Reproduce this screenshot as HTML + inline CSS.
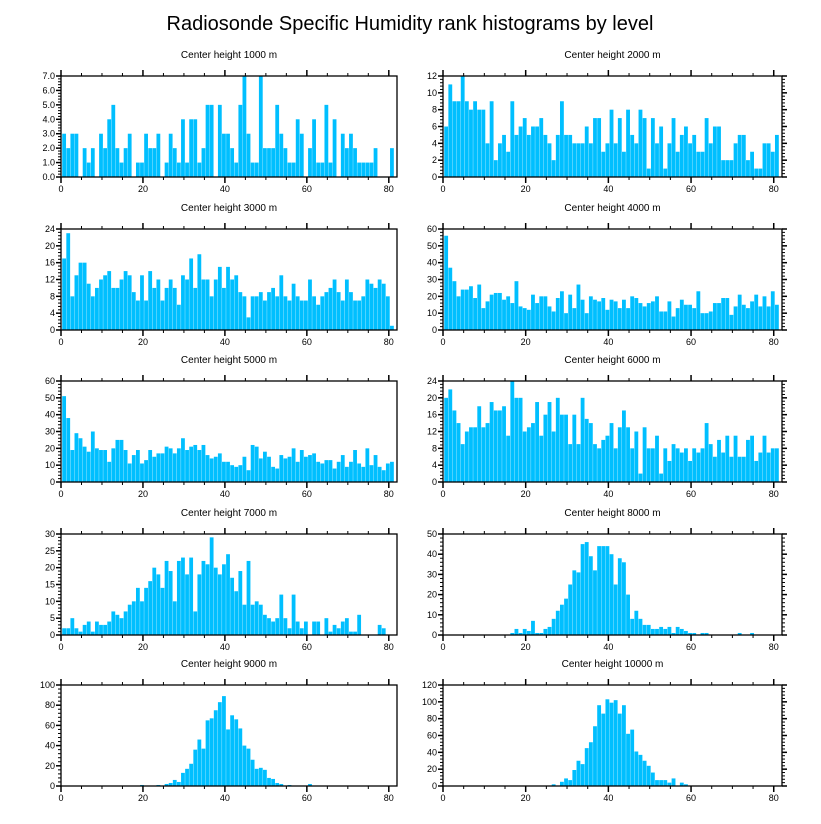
<!DOCTYPE html>
<html><head><meta charset="utf-8">
<style>
html,body{margin:0;padding:0;background:#fff;}
svg{display:block;font-family:"Liberation Sans",Arial,sans-serif;}
</style></head>
<body>
<svg id="chart" width="821" height="824" viewBox="0 0 821 824">
<text x="410" y="30" text-anchor="middle" font-size="20" fill="#000">Radiosonde Specific Humidity rank histograms by level</text>
</svg>
<script>
const panelTitles = ["Center height 1000 m","Center height 2000 m","Center height 3000 m","Center height 4000 m","Center height 5000 m","Center height 6000 m","Center height 7000 m","Center height 8000 m","Center height 9000 m","Center height 10000 m"];
const yMax = [7,12,24,60,60,24,30,50,100,120];
const yStep = [1,2,4,10,10,4,5,10,20,20];
const yDecimals = [1,0,0,0,0,0,0,0,0,0];
const xTicks = [0,20,40,60,80];
const h1000 = [3,2,3,3,0,2,1,2,0,3,2,4,5,2,1,2,3,0,1,1,3,2,2,3,0,1,3,2,1,4,1,4,4,1,2,5,5,0,5,3,3,2,1,5,7,3,1,1,7,2,2,2,5,3,2,1,1,4,3,0,2,4,1,1,5,1,4,0,3,2,3,2,1,1,1,1,2,0,0,0,2];
const h2000 = [6,11,9,9,12,9,8,9,8,8,4,9,2,4,5,3,9,5,6,7,5,6,6,7,5,4,2,5,9,5,5,4,4,4,6,4,7,7,3,4,8,4,7,3,8,5,4,8,7,1,7,4,6,1,4,7,3,5,6,4,5,3,3,7,4,6,6,2,2,2,4,5,5,2,3,1,1,4,4,3,5];
const h3000 = [17,23,8,13,16,16,11,8,10,12,13,14,10,10,12,14,13,9,7,13,7,14,10,12,7,10,12,10,6,13,12,17,10,18,12,12,8,12,15,10,15,12,13,9,8,3,8,8,9,7,9,10,8,13,8,7,11,8,7,7,12,8,6,8,9,10,12,9,7,12,9,7,7,8,12,11,10,12,11,8,1];
const h4000 = [56,37,29,20,24,24,26,19,27,13,17,21,22,22,18,20,16,29,14,13,12,21,16,20,20,14,11,19,23,10,21,13,27,18,10,20,18,17,19,12,18,17,13,18,13,20,19,16,14,16,17,20,11,11,17,8,13,18,15,15,13,23,10,10,11,16,16,19,19,9,14,21,15,13,17,21,14,20,14,23,15];
const h5000 = [51,38,19,29,26,21,18,30,20,19,19,12,20,25,25,19,11,16,19,11,13,19,15,17,17,21,20,17,20,26,19,21,22,19,22,16,14,15,17,12,12,10,9,10,15,7,22,21,14,18,15,9,8,16,14,15,20,12,19,15,16,17,12,11,13,13,8,12,16,9,12,19,11,9,20,10,16,9,7,11,12];
const h6000 = [20,22,17,14,9,12,13,13,18,13,14,19,17,17,18,11,24,20,20,12,13,14,19,11,16,19,12,20,16,16,9,16,9,20,15,14,9,8,10,11,14,8,13,17,13,8,12,2,13,8,8,11,2,8,5,9,8,7,8,5,8,7,8,14,9,6,10,7,11,6,11,6,6,10,11,5,7,11,7,8,8];
const h7000 = [2,2,5,2,1,3,4,1,4,3,3,4,7,6,5,7,9,10,14,10,14,16,20,18,14,22,19,10,22,23,18,23,7,18,22,21,29,20,18,21,24,17,13,19,9,22,9,10,9,6,5,4,5,12,5,2,12,4,2,4,0,4,4,0,5,1,3,2,4,5,1,1,6,0,0,0,0,3,2,0,0];
const h8000 = [0,0,0,0,0,0,0,0,0,0,0,0,0,0,0,0,1,3,1,3,2,7,1,1,3,4,8,12,15,18,25,32,31,45,46,39,32,44,44,44,40,25,38,36,20,8,12,8,5,5,3,3,4,3,4,1,4,3,2,1,1,0,1,1,0,0,0,0,0,0,0,1,0,0,1,0,0,0,0,0,0];
const h9000 = [0,0,0,0,0,0,0,0,0,0,0,0,0,0,0,0,0,0,0,1,0,0,0,1,0,2,3,6,4,13,17,22,36,46,37,65,67,75,83,89,56,70,66,57,40,37,26,17,18,16,8,7,3,2,0,1,0,0,0,0,2,0,0,0,0,0,0,0,0,0,0,0,0,0,0,0,0,0,0,0,0];
const h10000 = [0,0,0,0,0,0,0,0,0,0,0,0,0,0,0,0,0,0,0,0,0,0,0,0,0,0,2,0,5,9,7,19,30,26,45,52,71,96,86,103,99,102,86,96,62,67,41,37,30,24,16,7,7,7,4,9,0,4,2,0,0,0,0,0,0,0,0,0,0,0,0,0,0,0,0,0,0,0,0,0,0];
const series = [h1000,h2000,h3000,h4000,h5000,h6000,h7000,h8000,h9000,h10000];

const NS = "http://www.w3.org/2000/svg";
const svg = document.getElementById("chart");
const colLeft = [61, 443];
const colW = [336, 339];
const rowTop = [76, 229, 381, 534, 685];
const rowH = 101;
const X_MAX = 82;
function mk(tag, attrs, parent){
  const e = document.createElementNS(NS, tag);
  for (const k in attrs) e.setAttribute(k, attrs[k]);
  parent.appendChild(e);
  return e;
}
series.forEach((data, p) => {
  const col = p % 2, row = Math.floor(p / 2);
  const L = colLeft[col], W = colW[col], T = rowTop[row], H = rowH, B = T + H;
  const xs = v => L + v / X_MAX * W;
  const ys = v => B - v / yMax[p] * H;
  const g = mk("g", {}, svg);
  
  
  const t = mk("text", {x: L + W/2, y: T - 18, "text-anchor": "middle", "font-size": 10, fill: "#000"}, g);
  t.textContent = panelTitles[p];
  
  
  const bars = mk("g", {}, g);
  
  
  data.forEach((v, i) => {
    if (v <= 0) return;
    const x0 = xs(i + 0.3), x1 = xs(i + 1.3);
    const r = mk("rect", {x: x0, y: ys(v), width: Math.max(0.5, x1 - x0 - 0.3), height: B - ys(v), fill: "#00BFFF"}, bars);
    
    
  });
  const frame = mk("rect", {x: L, y: T, width: W, height: H, fill: "none", stroke: "#000", "stroke-width": 1.3}, g);
  
  
  const ticks = mk("g", {stroke: "#000", "stroke-width": 1}, g);
  
  
  for (let v = 0; v <= X_MAX; v += 5) {
    const major = v % 20 === 0;
    const len = major ? 6 : 3;
    const x = xs(v);
    mk("line", {x1: x, x2: x, y1: B, y2: B + len, "stroke-width": major ? 1.5 : 1}, ticks);
    mk("line", {x1: x, x2: x, y1: T, y2: T - len, "stroke-width": major ? 1.5 : 1}, ticks);
  }
  xTicks.forEach(v => {
    const lb = mk("text", {x: xs(v), y: B + 15, "text-anchor": "middle", "font-size": 9, fill: "#000"}, g);
    lb.textContent = v;
    
    
  });
  const step = yStep[p], minor = step / 5;
  for (let k = 0; k * minor <= yMax[p] + 1e-9; k++) {
    const v = k * minor, y = ys(v);
    const major = k % 5 === 0;
    const len = major ? 5 : 3;
    mk("line", {x1: L, x2: L - len, y1: y, y2: y, "stroke-width": major ? 1.5 : 1}, ticks);
    if (col === 1) mk("line", {x1: L + W, x2: L + W + len, y1: y, y2: y, "stroke-width": major ? 1.5 : 1}, ticks);
  }
  for (let v = 0; v <= yMax[p] + 1e-9; v += step) {
    const lb = mk("text", {x: L - 6, y: ys(v) + 3, "text-anchor": "end", "font-size": 9, fill: "#000"}, g);
    lb.textContent = v.toFixed(yDecimals[p]);
    
    
  }
});
</script>
</body></html>
